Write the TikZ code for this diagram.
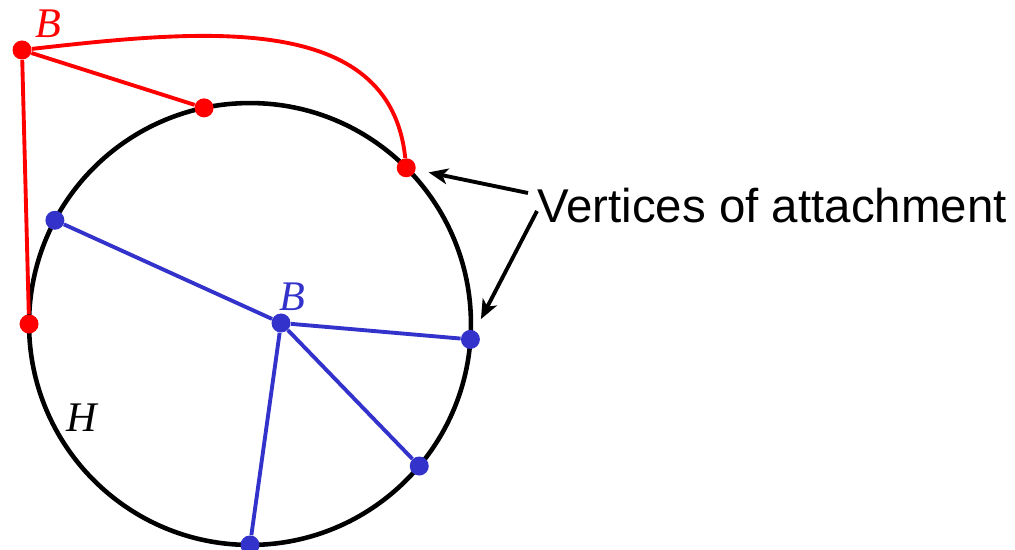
\documentclass[tikz,border=0pt]{standalone}
\usepackage{fontspec}
\setmainfont{Liberation Serif}
\setsansfont{Liberation Sans}
\usetikzlibrary{arrows.meta}
\definecolor{bred}{HTML}{FF0000}
\definecolor{bblue}{HTML}{3333CC}

\begin{document}
\begin{tikzpicture}[x=0.02cm, y=-0.02cm, >={Stealth[length=11pt, width=9pt, inset=3pt]},
  vtx/.style={circle, inner sep=0pt, minimum size=0.38cm},
  redv/.style={vtx, fill=bred},
  bluev/.style={vtx, fill=bblue},
  redline/.style={bred, line width=2.2pt},
  blueline/.style={bblue, line width=2.2pt},
  letter/.style={font=\fontsize{24}{28}\selectfont\itshape, inner sep=0pt}]
  \useasboundingbox (0,0) rectangle (1015,550);

  % the cycle H
  \node[draw, circle, line width=2.6pt, inner sep=0pt, outer sep=0pt, minimum size=8.84cm] (H) at (250,324) {};
  \node[letter] (Hlab) at (82,418) {H};

  % red bridge
  \node[redv] (Br) at (22,50) {};
  \node[redv] (r1) at (H.102) {};
  \node[redv] (r2) at (H.45) {};
  \node[redv] (r3) at (H.180) {};
  \node[letter, text=bred] (Brlab) at (48,24) {B};
  \draw[redline] (Br) -- (r1);
  \draw[redline] (Br) -- (r3);
  \draw[redline] (Br) .. controls (200,30) and (390,10) .. (r2);

  % blue bridge
  \node[bluev] (Bb) at (281,323) {};
  \node[bluev] (b1) at (H.152) {};
  \node[bluev] (b2) at (H.-4) {};
  \node[bluev] (b3) at (H.-40) {};
  \node[bluev] (b4) at (H.-90) {};
  \node[letter, text=bblue] (Bblab) at (292,297) {B};
  \foreach \v in {b1,b2,b3,b4}
    \draw[blueline] (Bb) -- (\v);

  % label and arrows
  \node[anchor=west, inner sep=0pt, font=\sffamily\fontsize{27}{31}\selectfont] (att) at (537,206) {Vertices of attachment};
  \coordinate (a1) at (528,193);
  \coordinate (a2) at (537,211);
  \draw[->, line width=2.2pt, shorten >=0.26cm] (a1) -- (r2);
  \draw[->, line width=2.2pt, shorten >=0.26cm] (a2) -- (b2);
\end{tikzpicture}
\end{document}
